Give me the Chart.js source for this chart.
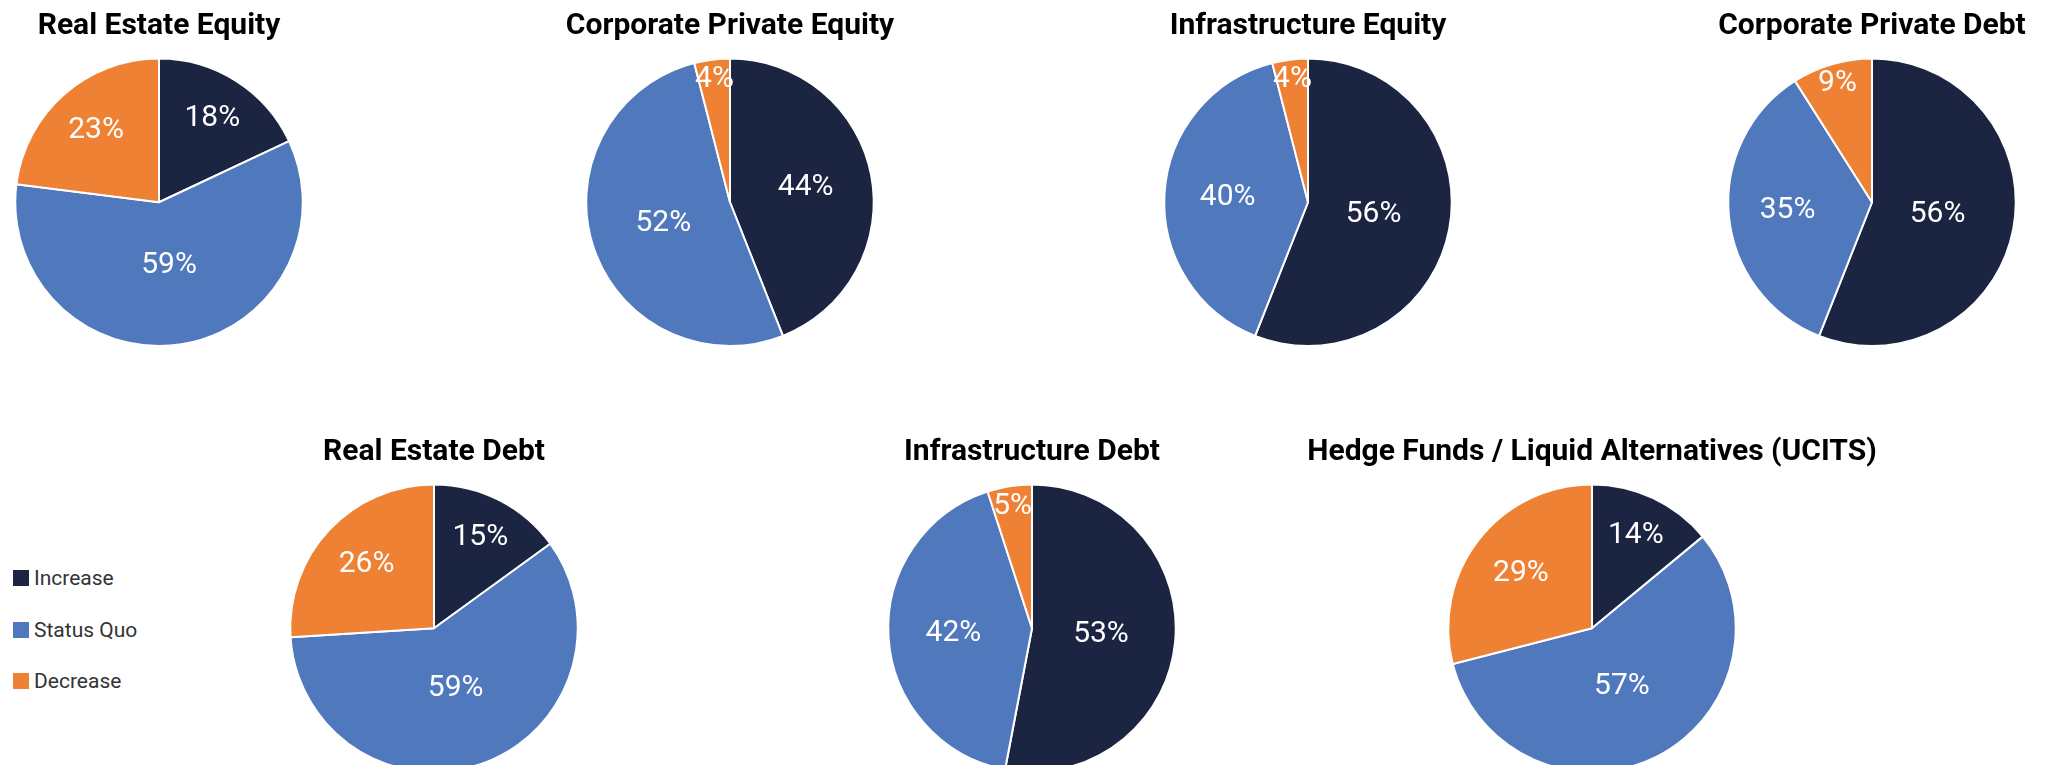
<!DOCTYPE html>
<html>
<head>
<meta charset="utf-8">
<script src="https://cdn.jsdelivr.net/npm/chart.js@4"></script>
<style>
  html, body { margin: 0; padding: 0; background: #fff; }
  body { width: 2056px; height: 765px; overflow: hidden; position: relative; }
  canvas { position: absolute; }
  #legend { position: absolute; left: 13px; top: 570px; font-family: Roboto, sans-serif; font-size: 21px; color: #333; }
  #legend div { height: 16px; margin-bottom: 35.5px; display: flex; align-items: center; white-space: nowrap; }
  #legend span.box { width: 16px; height: 16px; margin-right: 5px; display: inline-block; }
</style>
</head>
<body>
<div id="legend"></div>
<script>
// categories and colours
const categories = ['Increase', 'Status Quo', 'Decrease'];
const colors = ['#1b2441', '#5079bd', '#ef8134'];

// one pie per asset class, values in % (Increase, Status Quo, Decrease)
const titles = [
    'Real Estate Equity',
    'Corporate Private Equity',
    'Infrastructure Equity',
    'Corporate Private Debt',
    'Real Estate Debt',
    'Infrastructure Debt',
    'Hedge Funds / Liquid Alternatives (UCITS)'
];
const realEstateEquity = [18, 59, 23];
const corporatePrivateEquity = [44, 52, 4];
const infrastructureEquity = [56, 40, 4];
const corporatePrivateDebt = [56, 35, 9];
const realEstateDebt = [15, 59, 26];
const infrastructureDebt = [53, 42, 5];
const hedgeFunds = [14, 57, 29];

const series = [realEstateEquity, corporatePrivateEquity, infrastructureEquity, corporatePrivateDebt,
    realEstateDebt, infrastructureDebt, hedgeFunds];

// canvas placement (left, top) for each pie
const slots = [
    [-161, 0], [410, 0], [988, 0], [1552, 0],
    [114, 426], [712, 426], [1272, 426]
];

// percent labels inside slices; small slices sit near the rim
const pctLabels = {
    id: 'pctLabels',
    afterDatasetsDraw(chart) {
        const ctx = chart.ctx;
        const data = chart.data.datasets[0].data;
        ctx.save();
        ctx.fillStyle = '#fff';
        ctx.font = '30px Roboto, sans-serif';
        ctx.textAlign = 'center';
        ctx.textBaseline = 'middle';
        chart.getDatasetMeta(0).data.forEach((arc, i) => {
            const v = data[i];
            const frac = v < 10 ? 0.86 : 0.8 - 0.006 * v;
            const mid = (arc.startAngle + arc.endAngle) / 2;
            const r = arc.outerRadius * frac;
            ctx.fillText(v + '%', arc.x + Math.cos(mid) * r, arc.y + Math.sin(mid) * r);
        });
        ctx.restore();
    }
};

series.forEach((values, idx) => {
    const canvas = document.createElement('canvas');
    canvas.width = 640;
    canvas.height = 347;
    canvas.style.left = slots[idx][0] + 'px';
    canvas.style.top = slots[idx][1] + 'px';
    document.body.appendChild(canvas);

    new Chart(canvas.getContext('2d'), {
        type: 'pie',
        data: {
            labels: categories,
            datasets: [{
                data: values,
                backgroundColor: colors,
                borderColor: '#fff',
                borderWidth: 2
            }]
        },
        options: {
            responsive: false,
            animation: false,
            layout: { padding: 0 },
            plugins: {
                legend: { display: false },
                tooltip: { enabled: false },
                title: {
                    display: true,
                    text: titles[idx],
                    color: '#000',
                    font: { family: 'Roboto, sans-serif', size: 30, weight: 'bold' },
                    padding: { top: 8, bottom: 13.5 }
                }
            }
        },
        plugins: [pctLabels]
    });
});

// legend
const legend = document.getElementById('legend');
categories.forEach((name, i) => {
    const row = document.createElement('div');
    row.innerHTML = '<span class="box" style="background:' + colors[i] + '"></span>' + name;
    legend.appendChild(row);
});
</script>
</body>
</html>
